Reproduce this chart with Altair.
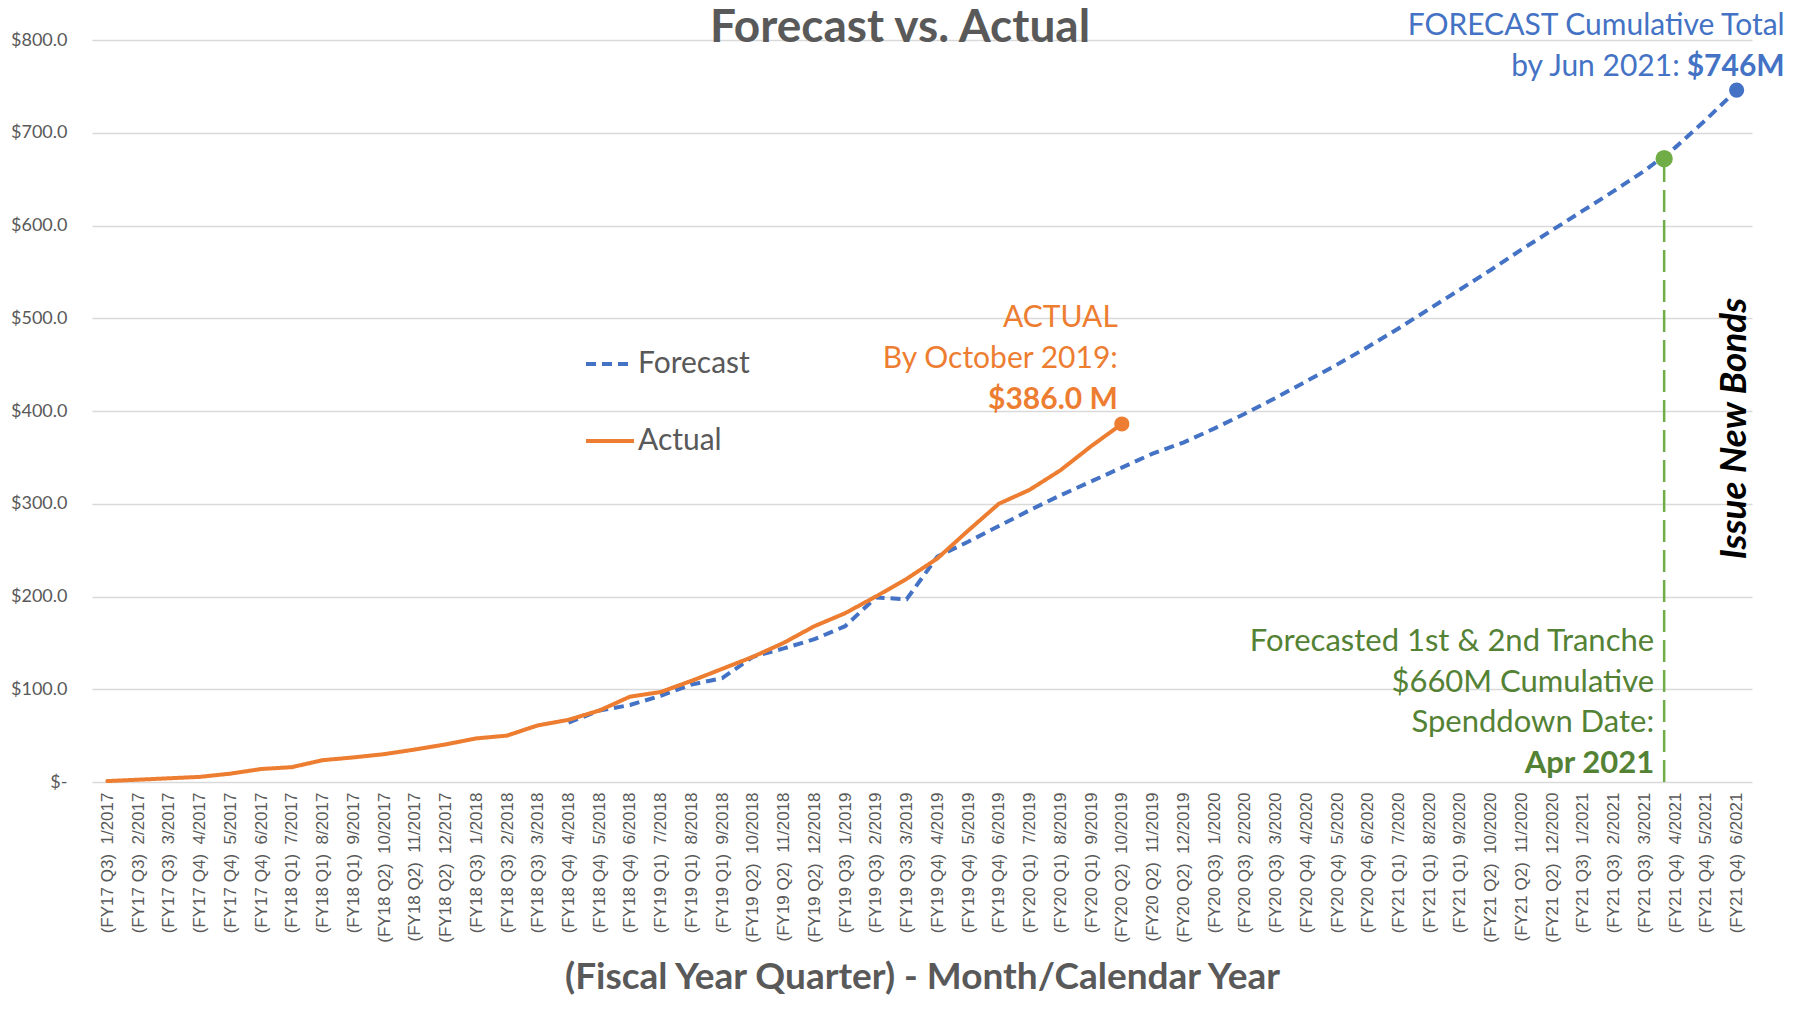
import altair as alt
import pandas as pd

# ---------------- data ----------------
month_labels = [
    "(FY17 Q3) 1/2017", "(FY17 Q3) 2/2017", "(FY17 Q3) 3/2017", "(FY17 Q4) 4/2017",
    "(FY17 Q4) 5/2017", "(FY17 Q4) 6/2017", "(FY18 Q1) 7/2017", "(FY18 Q1) 8/2017",
    "(FY18 Q1) 9/2017", "(FY18 Q2) 10/2017", "(FY18 Q2) 11/2017", "(FY18 Q2) 12/2017",
    "(FY18 Q3) 1/2018", "(FY18 Q3) 2/2018", "(FY18 Q3) 3/2018", "(FY18 Q4) 4/2018",
    "(FY18 Q4) 5/2018", "(FY18 Q4) 6/2018", "(FY19 Q1) 7/2018", "(FY19 Q1) 8/2018",
    "(FY19 Q1) 9/2018", "(FY19 Q2) 10/2018", "(FY19 Q2) 11/2018", "(FY19 Q2) 12/2018",
    "(FY19 Q3) 1/2019", "(FY19 Q3) 2/2019", "(FY19 Q3) 3/2019", "(FY19 Q4) 4/2019",
    "(FY19 Q4) 5/2019", "(FY19 Q4) 6/2019", "(FY20 Q1) 7/2019", "(FY20 Q1) 8/2019",
    "(FY20 Q1) 9/2019", "(FY20 Q2) 10/2019", "(FY20 Q2) 11/2019", "(FY20 Q2) 12/2019",
    "(FY20 Q3) 1/2020", "(FY20 Q3) 2/2020", "(FY20 Q3) 3/2020", "(FY20 Q4) 4/2020",
    "(FY20 Q4) 5/2020", "(FY20 Q4) 6/2020", "(FY21 Q1) 7/2020", "(FY21 Q1) 8/2020",
    "(FY21 Q1) 9/2020", "(FY21 Q2) 10/2020", "(FY21 Q2) 11/2020", "(FY21 Q2) 12/2020",
    "(FY21 Q3) 1/2021", "(FY21 Q3) 2/2021", "(FY21 Q3) 3/2021", "(FY21 Q4) 4/2021",
    "(FY21 Q4) 5/2021", "(FY21 Q4) 6/2021",
]

# Actual cumulative spend ($M), 1/2017 .. 10/2019
actual = [1, 2.5, 4, 5.5, 9, 14, 16, 23.5, 26.5, 30, 35, 40.5, 47, 50, 61, 67,
          77, 92, 97, 109, 122, 135, 150, 168, 182, 200, 219, 241, 271, 300,
          315, 336, 362, 386]
actual_start = 0

# Forecast cumulative spend ($M), 4/2018 .. 6/2021
forecast = [64, 77, 83, 93, 105, 112, 135, 144, 154, 168, 199, 197, 243, 259,
            276, 293, 309, 324, 339, 354, 366, 381, 397, 414, 432, 450, 469,
            489, 510, 531, 552, 574, 595, 616, 637, 659, 684, 714, 746]
forecast_start = 15

# Tranche spend-down marker (Apr 2021)
tranche_month = "(FY21 Q4) 4/2021"
tranche_value = 672

series_names = ["Forecast", "Actual"]

# ---------------- styles ----------------
BLUE = "#4472C4"
ORANGE = "#ED7D31"
GREEN = "#70AD47"
DKGREEN = "#548235"
GRAY = "#595959"
FONT = "Lato"
TRANCHE_SHIFT = -11  # the marker sits a little left of the Apr 2021 tick

df_f = pd.DataFrame({"label": month_labels[forecast_start:forecast_start + len(forecast)],
                     "value": forecast, "series": "Forecast"})
df_a = pd.DataFrame({"label": month_labels[actual_start:actual_start + len(actual)],
                     "value": actual, "series": "Actual"})

x_enc = alt.X(
    "label:O",
    scale=alt.Scale(type="point", domain=month_labels, padding=0.5),
    axis=alt.Axis(
        labelExpr="replace(datum.label, ') ', ')\u00a0\u00a0')",
        labelAngle=-90,
        labelFont="Liberation Sans",
        labelFontSize=17,
        labelColor=GRAY,
        labelPadding=10,
        labelOverlap=False,
        ticks=False,
        domain=False,
        grid=False,
        title="(Fiscal Year Quarter) - Month/Calendar Year",
        titleFont=FONT,
        titleFontSize=37,
        titleFontWeight="bold",
        titleColor=GRAY,
        titleY=206,
        titleBaseline="alphabetic",
    ),
)
y_enc = alt.Y(
    "value:Q",
    scale=alt.Scale(domain=[0, 800], nice=False),
    axis=alt.Axis(
        values=list(range(0, 801, 100)),
        labelExpr="datum.value == 0 ? '$-\u00a0\u00a0\u00a0' : '$' + format(datum.value, '.1f')",
        grid=True,
        gridColor="#d9d9d9",
        gridWidth=1.3,
        domain=False,
        ticks=False,
        labelFont=FONT,
        labelFontSize=18,
        labelColor=GRAY,
        labelPadding=25,
        title=None,
    ),
)

color_scale = alt.Scale(domain=series_names, range=[BLUE, ORANGE])
dash_scale = alt.Scale(domain=series_names, range=[[10, 6], [1, 0]])
legend = alt.Legend(
    title=None, orient="none", legendX=492, legendY=298,
    symbolType="stroke", symbolSize=2304, symbolStrokeWidth=4,
    labelFont=FONT, labelFontSize=30, labelColor=GRAY,
    rowPadding=36, labelOffset=2, padding=0,
)

forecast_line = alt.Chart(df_f).mark_line(strokeWidth=4, strokeCap="butt").encode(
    x=x_enc, y=y_enc,
    color=alt.Color("series:N", scale=color_scale, legend=legend),
    strokeDash=alt.StrokeDash("series:N", scale=dash_scale, legend=legend),
)
actual_line = alt.Chart(df_a).mark_line(strokeWidth=4, strokeCap="round").encode(
    x="label:O", y="value:Q",
    color=alt.Color("series:N", scale=color_scale, legend=legend),
    strokeDash=alt.StrokeDash("series:N", scale=dash_scale, legend=legend),
)

end_pts = pd.concat([df_a.tail(1), df_f.tail(1)])
end_dots = alt.Chart(end_pts).mark_circle(size=230, opacity=1).encode(
    x="label:O", y="value:Q",
    color=alt.Color("series:N", scale=color_scale, legend=None),
)

df_tr = pd.DataFrame({"label": [tranche_month], "value": [tranche_value], "base": [0]})
tranche_rule = alt.Chart(df_tr).mark_rule(
    color=GREEN, strokeWidth=2.5, strokeDash=[22, 8], xOffset=TRANCHE_SHIFT
).encode(x="label:O", y="base:Q", y2="value:Q")
tranche_dot = alt.Chart(df_tr).mark_circle(
    size=300, opacity=1, color=GREEN, xOffset=TRANCHE_SHIFT
).encode(x="label:O", y="value:Q")


def note(text, label, value, dx, dy, color, bold=False, align="right", size=30,
         angle=0, italic=False):
    kw = dict(font=FONT, fontSize=size, color=color, align=align, baseline="alphabetic",
              dx=dx, dy=dy, fontWeight="bold" if bold else "normal")
    if angle:
        kw["angle"] = angle
    if italic:
        kw["fontStyle"] = "italic"
    d = pd.DataFrame({"label": [label], "value": [value], "t": [text]})
    return alt.Chart(d).mark_text(**kw).encode(x="label:O", y="value:Q", text="t:N")


a_lab = month_labels[actual_start + len(actual) - 1]
a_val = actual[-1]
f_lab = month_labels[forecast_start + len(forecast) - 1]
f_val = forecast[-1]
gdx = TRANCHE_SHIFT - 10

notes = [
    note("ACTUAL", a_lab, a_val, -4, -97, ORANGE),
    note("By October 2019:", a_lab, a_val, -4, -56, ORANGE),
    note("$386.0 M", a_lab, a_val, -4, -15, ORANGE, bold=True),
    note("FORECAST Cumulative Total", f_lab, f_val, 48, -55, BLUE),
    note("by Jun 2021:", f_lab, f_val, -57, -14, BLUE),
    note("$746M", f_lab, f_val, 48, -14, BLUE, bold=True),
    note("Forecasted 1st & 2nd Tranche", tranche_month, 0, gdx, -131, DKGREEN, size=31),
    note("$660M Cumulative", tranche_month, 0, gdx, -90, DKGREEN, size=31),
    note("Spenddown Date:", tranche_month, 0, gdx, -50, DKGREEN, size=31),
    note("Apr 2021", tranche_month, 0, gdx, -9, DKGREEN, bold=True, size=31),
    note("Issue New Bonds", f_lab, 381, 0, 9, "#000000", bold=True, align="center",
         size=37, angle=270, italic=True),
]

title = alt.Chart(pd.DataFrame({"t": ["Forecast vs. Actual"]})).mark_text(
    font=FONT, fontSize=46, fontWeight="bold", color=GRAY, align="center", baseline="alphabetic"
).encode(x=alt.value(808), y=alt.value(2), text="t:N")

chart = alt.layer(
    forecast_line, actual_line, tranche_rule, end_dots, tranche_dot, *notes, title
).properties(
    width=1660, height=742,
    autosize=alt.AutoSizeParams(type="none"),
    padding={"left": 84, "top": 32, "right": 42, "bottom": 214},
    background="white",
).configure_view(stroke=None)

chart.save("out.html", embed_options={"renderer": "svg", "actions": False})
